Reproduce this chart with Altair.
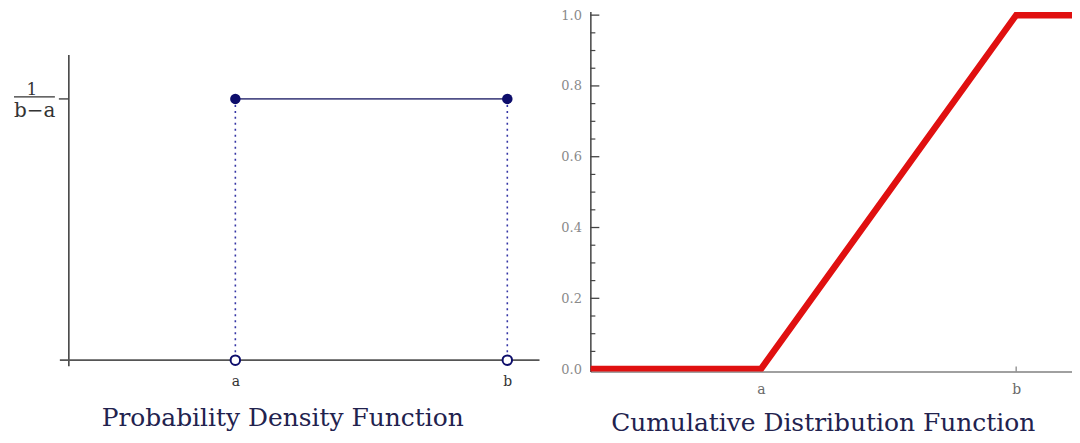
import altair as alt
import pandas as pd

# ---------------- data (symbolic a, b) ----------------
a_val = 3.0
b_val = 7.9
pdf_h = 1.0 / (b_val - a_val)          # height 1/(b-a)

# left panel (PDF) extents in data units
pdf_x_domain = [-0.162, 8.48]
pdf_y_domain = [-0.00892, 0.2723]
pdf_xaxis_x = [-0.162, 8.48]           # drawn x-axis line
pdf_yaxis_y = [-0.0047, 0.2384]        # drawn y-axis line
pdf_points_x = [a_val, b_val]
pdf_labels = ["a", "b"]

# right panel (CDF)
cdf_x_domain = [-0.2734, 8.972]
cdf_y_domain = [-0.007, 1.01]
cdf_x = [-0.2734, a_val, b_val, 8.972]
cdf_y = [0.0, 0.0, 1.0, 1.0]
cdf_major = [0.0, 0.2, 0.4, 0.6, 0.8, 1.0]
cdf_minor = [0.05, 0.1, 0.15, 0.25, 0.3, 0.35, 0.45, 0.5, 0.55,
             0.65, 0.7, 0.75, 0.85, 0.9, 0.95]

W1, W2, H = 481, 483, 361
SERIF = "DejaVu Serif"
NAVY = "#0d0d6b"

# ---------------- left: PDF ----------------
xs1 = alt.Scale(domain=pdf_x_domain, nice=False, zero=False)
ys1 = alt.Scale(domain=pdf_y_domain, nice=False, zero=False)
X1 = alt.X("x:Q", scale=xs1, axis=alt.Axis(
    values=pdf_points_x, labelExpr="datum.value < 5 ? 'a' : 'b'",
    domain=False, ticks=False, tickSize=0, grid=False, title=None,
    labelFont=SERIF, labelFontSize=14, labelColor="#333333",
    labelPadding=3, labelFlush=False, labelOverlap=False))
Y1 = alt.Y("y:Q", scale=ys1, axis=None)

yaxis_df = pd.DataFrame({"x": [0.0], "y": [pdf_yaxis_y[0]], "y2": [pdf_yaxis_y[1]]})
xaxis_df = pd.DataFrame({"x": [pdf_xaxis_x[0]], "x2": [pdf_xaxis_x[1]], "y": [0.0]})
level_df = pd.DataFrame({"x": [0.0], "x2": [0.0], "y": [pdf_h]})
top_df = pd.DataFrame({"x": [a_val], "x2": [b_val], "y": [pdf_h]})
pts_df = pd.DataFrame({"x": pdf_points_x, "y": [pdf_h, pdf_h], "y0": [0.0, 0.0],
                       "label": pdf_labels})
base_df = pd.DataFrame({"x": pdf_points_x, "y": [0.0, 0.0]})
frac_df = pd.DataFrame({"x": [0.0], "x2": [0.0], "y": [pdf_h]})

l_yaxis = alt.Chart(yaxis_df).mark_rule(color="#444444", strokeWidth=1.6).encode(
    x=X1, y=Y1, y2="y2:Q")
l_xaxis = alt.Chart(xaxis_df).mark_rule(color="#555555", strokeWidth=1.6).encode(
    x=X1, x2="x2:Q", y=Y1)
l_tick = alt.Chart(level_df).mark_rule(color="#444444", strokeWidth=1.4, xOffset=-10).encode(
    x=X1, x2="x2:Q", y=Y1)
l_top = alt.Chart(top_df).mark_rule(color="#505088", strokeWidth=1.8).encode(
    x=X1, x2="x2:Q", y=Y1)
l_dots = alt.Chart(pts_df).mark_rule(color="#3535a5", strokeWidth=1.6,
                                     strokeDash=[2, 4]).encode(x=X1, y=Y1, y2="y0:Q")
l_fill = alt.Chart(pts_df).mark_point(filled=True, color=NAVY, size=110, opacity=1).encode(
    x=X1, y=Y1)
l_open = alt.Chart(base_df).mark_point(filled=True, fill="white", stroke=NAVY,
                                       strokeWidth=2, size=90, opacity=1).encode(x=X1, y=Y1)
l_one = alt.Chart(frac_df).mark_text(text="1", font=SERIF, fontSize=17, color="#333333",
                                     align="center", baseline="alphabetic",
                                     dx=-37, dy=-4).encode(x=X1, y=Y1)
l_den = alt.Chart(frac_df).mark_text(text="b\u2212a", font=SERIF, fontSize=20,
                                     color="#333333", align="left",
                                     baseline="alphabetic", dx=-55, dy=18).encode(x=X1, y=Y1)
l_bar = alt.Chart(frac_df).mark_rule(color="#333333", strokeWidth=1.4, xOffset=-55,
                                     x2Offset=-14, yOffset=-2).encode(x=X1, x2="x2:Q", y=Y1)

left = alt.layer(l_yaxis, l_xaxis, l_tick, l_top, l_dots, l_fill, l_open,
                 l_one, l_den, l_bar).properties(
    width=W1, height=H,
    title=alt.TitleParams("Probability Density Function", orient="bottom",
                          anchor="middle", frame="group", font=SERIF, fontSize=25,
                          fontWeight="normal", color="#22224e", dx=-17, offset=38,
                          baseline="alphabetic"))

# ---------------- right: CDF ----------------
xs2 = alt.Scale(domain=cdf_x_domain, nice=False, zero=False)
ys2 = alt.Scale(domain=cdf_y_domain, nice=False, zero=False)
X2 = alt.X("x:Q", scale=xs2, axis=alt.Axis(
    values=pdf_points_x, labelExpr="datum.value < 5 ? 'a' : 'b'",
    domain=True, domainColor="#808080", domainWidth=1.5, ticks=False, tickSize=0,
    grid=False, title=None, labelFont=SERIF, labelFontSize=14, labelColor="#6a6a6a",
    labelPadding=11, labelFlush=False, labelOverlap=False))
Y2 = alt.Y("y:Q", scale=ys2, axis=alt.Axis(
    values=cdf_major, format=".1f", domain=True, domainColor="#444444",
    domainWidth=1.5, ticks=False, tickSize=0, grid=False, title=None,
    labelFont=SERIF, labelFontSize=13, labelColor="#8a8a8a", labelPadding=9,
    labelFlush=False, labelOverlap=False))

cdf_df = pd.DataFrame({"x": cdf_x, "y": cdf_y})
major_df = pd.DataFrame({"y": cdf_major})
minor_df = pd.DataFrame({"y": cdf_minor})
xt_df = pd.DataFrame({"x": pdf_points_x})

r_major = alt.Chart(major_df).mark_rule(color="#444444", strokeWidth=1.3).encode(
    y=Y2, x=alt.value(0), x2=alt.value(9))
r_minor = alt.Chart(minor_df).mark_rule(color="#444444", strokeWidth=1.2).encode(
    y=Y2, x=alt.value(0), x2=alt.value(5))
r_xt = alt.Chart(xt_df).mark_rule(color="#808080", strokeWidth=1.2).encode(
    x=X2, y=alt.value(H), y2=alt.value(H - 5))
r_line = alt.Chart(cdf_df).mark_line(color="#e01010", strokeWidth=6.5, clip=True).encode(
    x=X2, y=Y2, order=alt.Order("x:Q"))

right = alt.layer(r_major, r_minor, r_xt, r_line).properties(
    width=W2, height=H,
    title=alt.TitleParams("Cumulative Distribution Function", orient="bottom",
                          anchor="middle", frame="group", font=SERIF, fontSize=25,
                          fontWeight="normal", color="#22224e", dx=-8, offset=35,
                          baseline="alphabetic"))

chart = alt.hconcat(left, right, spacing=51, bounds="flush").properties(
    padding={"left": 5, "top": 0, "right": 0, "bottom": 0}
).configure(background="white").configure_view(stroke=None)

chart.save("out.html", embed_options={"renderer": "svg", "actions": False})
